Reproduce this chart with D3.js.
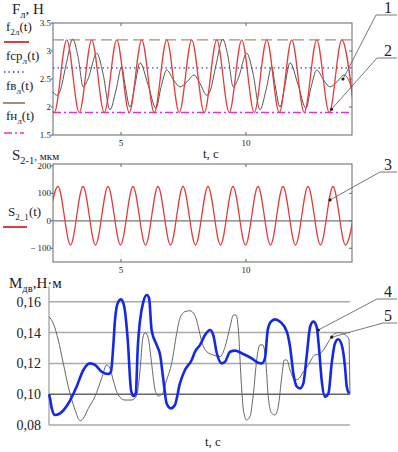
<!DOCTYPE html>
<html>
<head>
<meta charset="utf-8">
<script src="https://cdn.jsdelivr.net/npm/d3@7"></script>
<style>
  body { margin: 0; background: #fff; }
  svg text { fill: #222; }
</style>
</head>
<body>
<script>
// ---- data ----
// panel 1: force, H
var f2T = [1.83, 2.33, 2.83, 3.33, 3.83, 4.33, 4.83, 5.33, 5.83, 6.33, 6.83, 7.33, 7.83, 8.33, 8.83, 9.33, 9.83, 10.33, 10.83, 11.33, 11.83, 12.33, 12.83, 13.33, 13.83, 14.33];
var f2V = [3.2, 1.9, 3.2, 1.9, 3.2, 1.9, 3.2, 1.9, 3.2, 1.9, 3.2, 1.9, 3.2, 1.9, 3.2, 1.9, 3.2, 1.9, 3.2, 1.9, 3.2, 1.9, 3.2, 1.9, 3.2, 1.9];
var fGrayT = [2.28, 2.43, 2.56, 2.8, 3.07, 3.28, 3.49, 3.68, 4.03, 4.28, 4.56, 4.8, 5.03, 5.16, 5.36, 5.56, 5.76, 6.08, 6.4, 6.6, 6.83, 7.08, 7.36, 7.64, 7.92, 8.16,
              8.43, 8.56, 8.8, 9.07, 9.28, 9.49, 9.68, 10.03, 10.28, 10.56, 10.8, 11.03, 11.16, 11.36, 11.56, 11.76, 12.08, 12.4, 12.6, 12.83, 13.08, 13.36, 13.64, 13.92, 14.16, 14.24];
var fGrayV = [2.27, 2.21, 2.28, 2.75, 3.21, 2.9, 2.36, 2.5, 2.96, 2.6, 1.95, 2.3, 2.72, 2.4, 2.0, 2.4, 2.79, 2.4, 1.98, 2.35, 2.66, 2.5, 2.36, 2.45, 2.57, 2.42,
              2.21, 2.28, 2.75, 3.21, 2.9, 2.36, 2.5, 2.96, 2.6, 1.95, 2.3, 2.72, 2.4, 2.0, 2.4, 2.79, 2.4, 1.98, 2.35, 2.66, 2.5, 2.36, 2.45, 2.57, 2.42, 2.3];
var fUpper = 3.2, fMean = 2.7, fLower = 1.9;
var fTicks = [1.5, 2, 2.5, 3, 3.5];
var fTickLabels = ["1.5", "2", "2.5", "3", "3.5"];
var tTicks = [5, 10];

// panel 2: displacement, mkm
var sT = [1.98, 2.48, 2.98, 3.48, 3.98, 4.48, 4.98, 5.48, 5.98, 6.48, 6.98, 7.48, 7.98, 8.48, 8.98, 9.48, 9.98, 10.48, 10.98, 11.48, 11.98, 12.48, 12.98, 13.48, 13.98, 14.48];
var sV = [-88, 125, -88, 125, -88, 125, -88, 125, -88, 125, -88, 125, -88, 125, -88, 125, -88, 125, -88, 125, -88, 125, -88, 125, -88, 125];
var sTicks = [-100, 0, 100, 200];
var sTickLabels = ["\u2212 100", "0", "100", "200"];

// panel 3: motor torque, N*m
var mBlueT = [0, 0.04, 0.11, 0.24, 0.44, 0.77, 1.10, 1.37, 1.63, 1.83, 2.10, 2.36, 2.47, 2.56, 2.63, 2.76, 2.87, 3.00, 3.14, 3.27, 3.36, 3.46, 3.54, 3.63, 3.76, 3.90, 3.99, 4.09, 4.29, 4.43, 4.56, 4.69, 4.86, 5.02, 5.22, 5.42, 5.69, 5.82, 6.02, 6.22, 6.42, 6.55, 6.69, 6.89, 7.02, 7.22, 7.42, 7.68, 8.08, 8.34, 8.48, 8.61, 8.72, 8.85, 9.01, 9.21, 9.48, 9.61, 9.74, 9.88, 10.01, 10.14, 10.27, 10.41, 10.54, 10.67, 10.76, 10.87, 11.00, 11.14, 11.27, 11.40, 11.53, 11.67, 11.80, 11.87, 11.96];
var mBlueV = [0.100, 0.0973, 0.0908, 0.0865, 0.0876, 0.094, 0.1049, 0.1157, 0.120, 0.119, 0.1146, 0.1131, 0.1146, 0.1308, 0.148, 0.160, 0.1616, 0.1568, 0.1352, 0.1027, 0.0988, 0.1005, 0.1308, 0.148, 0.160, 0.1644, 0.1623, 0.1417, 0.132, 0.1255, 0.1092, 0.094, 0.0908, 0.093, 0.107, 0.1157, 0.1222, 0.1276, 0.132, 0.1384, 0.1417, 0.1384, 0.1266, 0.120, 0.1211, 0.1276, 0.1283, 0.1266, 0.1233, 0.1204, 0.120, 0.1233, 0.1417, 0.1471, 0.1486, 0.1471, 0.1406, 0.1308, 0.1136, 0.1049, 0.1038, 0.107, 0.1244, 0.1438, 0.1471, 0.1438, 0.1308, 0.1092, 0.0984, 0.1005, 0.120, 0.133, 0.1357, 0.132, 0.1179, 0.1049, 0.1005];
var mGrayT = [0, 0.17, 0.37, 0.57, 0.77, 1.04, 1.24, 1.37, 1.57, 1.83, 2.10, 2.30, 2.43, 2.56, 2.76, 3.03, 3.30, 3.50, 3.63, 3.74, 3.83, 3.96, 4.09, 4.23, 4.36, 4.52, 4.69, 4.89, 5.09, 5.22, 5.42, 5.62, 5.82, 5.95, 6.09, 6.29, 6.55, 6.82, 7.02, 7.22, 7.35, 7.46, 7.55, 7.66, 7.75, 7.88, 8.01, 8.15, 8.28, 8.41, 8.52, 8.64, 8.74, 8.88, 9.01, 9.14, 9.28, 9.38, 9.48, 9.61, 9.81, 9.97, 10.14, 10.34, 10.60, 10.80, 10.94, 11.07, 11.27, 11.40, 11.60, 11.77, 11.96, 11.98, 12.0];
var mGrayV = [0.1503, 0.146, 0.1352, 0.120, 0.1049, 0.0897, 0.0828, 0.0843, 0.0908, 0.0984, 0.1103, 0.119, 0.1168, 0.1092, 0.0995, 0.0962, 0.0962, 0.0995, 0.1157, 0.1363, 0.140, 0.1363, 0.120, 0.1027, 0.0988, 0.1005, 0.1092, 0.120, 0.1395, 0.1493, 0.1536, 0.1542, 0.151, 0.1438, 0.1341, 0.1276, 0.1255, 0.1244, 0.1308, 0.1438, 0.1514, 0.1514, 0.1417, 0.1092, 0.0897, 0.0832, 0.0854, 0.1005, 0.1222, 0.132, 0.132, 0.1222, 0.0984, 0.0876, 0.0865, 0.0919, 0.1114, 0.1222, 0.1222, 0.1157, 0.1092, 0.1103, 0.1146, 0.119, 0.1255, 0.1261, 0.1287, 0.132, 0.1373, 0.1395, 0.140, 0.1389, 0.1357, 0.120, 0.100];
var mTicks = [0.08, 0.10, 0.12, 0.14, 0.16];
var mTickLabels = ["0,08", "0,10", "0,12", "0,14", "0,16"];

// callouts: [number, panel, t, value]
var calloutNames = ["1", "2", "3", "4", "5"];
var calloutPanel = [1, 1, 2, 3, 3];
var calloutT = [13.88, 13.42, 13.36, 10.74, 11.27];
var calloutV = [2.5, 1.96, 76, 0.1417, 0.137];

function zip(a, b) { return a.map(function(d, i){ return [d, b[i]]; }); }

var width = 398, height = 452;
var serif = "'Liberation Serif', 'DejaVu Serif', 'Times New Roman', serif";
var svg = d3.select("body").append("svg")
    .attr("width", width)
    .attr("height", height)
    .attr("font-family", serif)
    .style("font-family", serif)
    .style("background-color", "white");

var defs = svg.append("defs");

// ---- scales ----
var x1 = d3.scaleLinear().domain([2.28, 14.24]).range([53, 352]);
var y1 = d3.scaleLinear().domain([1.5, 3.5]).range([135, 23]);
var y2 = d3.scaleLinear().domain([-150, 207]).range([262, 164]);
var x3 = d3.scaleLinear().domain([0, 12]).range([49, 350]);
var y3 = d3.scaleLinear().domain([0.08, 0.17]).range([425, 286.4]);

defs.append("clipPath").attr("id", "clip1").append("rect")
    .attr("x", x1(2.28)).attr("y", y1(3.5)).attr("width", x1(14.24) - x1(2.28)).attr("height", y1(1.5) - y1(3.5));
defs.append("clipPath").attr("id", "clip2").append("rect")
    .attr("x", x1(2.28)).attr("y", y2(207)).attr("width", x1(14.24) - x1(2.28)).attr("height", y2(-150) - y2(207));

function lineFor(xs, ys, curve) {
    return d3.line().x(function(d){ return xs(d[0]); }).y(function(d){ return ys(d[1]); }).curve(curve || d3.curveMonotoneX);
}

// small helper for text with subscript
function subText(g, x, y, parts, size) {
    var t = g.append("text").attr("x", x).attr("y", y).attr("font-family", serif).style("font-size", size + "px");
    parts.forEach(function(p) {
        var s = t.append("tspan").text(p[0]);
        if (p[1] === "sub") s.style("font-size", (size * 0.7) + "px").attr("dy", size * 0.28);
        else if (p[1] === "up") s.attr("dy", -size * 0.28).style("font-size", (p[2] || size) + "px");
        else if (p[2]) s.style("font-size", p[2] + "px");
    });
    return t;
}

// frame with inner ticks (Mathcad style)
function frame(ys, yTicks, yLabels, innerY) {
    var g = svg.append("g");
    var top = ys.range()[1], bot = ys.range()[0];
    g.append("rect").attr("x", x1.range()[0]).attr("y", top)
        .attr("width", x1.range()[1] - x1.range()[0]).attr("height", bot - top)
        .attr("fill", "none").attr("stroke", "#666").attr("stroke-width", 1);
    tTicks.forEach(function(t) {
        g.append("line").attr("x1", x1(t)).attr("x2", x1(t)).attr("y1", top).attr("y2", top + 3).attr("stroke", "#666");
        g.append("line").attr("x1", x1(t)).attr("x2", x1(t)).attr("y1", bot).attr("y2", bot - 3).attr("stroke", "#666");
        g.append("text").attr("x", x1(t)).attr("y", bot + 11).attr("text-anchor", "middle")
            .style("font-size", "9px").text(t);
    });
    yTicks.forEach(function(v, i) {
        g.append("line").attr("x1", x1.range()[0] - 2).attr("x2", x1.range()[0]).attr("y1", ys(v)).attr("y2", ys(v)).attr("stroke", "#666");
        g.append("text").attr("x", x1.range()[0] - 2).attr("y", ys(v) + 3).attr("text-anchor", "end")
            .style("font-size", "9px").text(yLabels[i]);
    });
    innerY.forEach(function(v) {
        g.append("line").attr("x1", x1.range()[1] - 3).attr("x2", x1.range()[1]).attr("y1", ys(v)).attr("y2", ys(v)).attr("stroke", "#666");
    });
    return g;
}

// ---- panel 1 ----
frame(y1, fTicks, fTickLabels, [2, 2.5, 3]);
var p1 = svg.append("g").attr("clip-path", "url(#clip1)");
p1.append("line").attr("x1", x1(2.28)).attr("x2", x1(14.24)).attr("y1", y1(fUpper)).attr("y2", y1(fUpper))
    .attr("stroke", "#a48f7c").attr("stroke-width", 1.3).attr("stroke-dasharray", "11,5");
p1.append("line").attr("x1", x1(2.28)).attr("x2", x1(14.24)).attr("y1", y1(fMean)).attr("y2", y1(fMean))
    .attr("stroke", "#3a3ad8").attr("stroke-width", 1.2).attr("stroke-dasharray", "1.5,3");
p1.append("line").attr("x1", x1(2.28)).attr("x2", x1(14.24)).attr("y1", y1(fLower)).attr("y2", y1(fLower))
    .attr("stroke", "#e030e0").attr("stroke-width", 1.5).attr("stroke-dasharray", "8,3,2,3");
p1.append("path").datum(zip(fGrayT, fGrayV)).attr("d", lineFor(x1, y1))
    .attr("fill", "none").attr("stroke", "#555").attr("stroke-width", 1);
p1.append("path").datum(zip(f2T, f2V)).attr("d", lineFor(x1, y1))
    .attr("fill", "none").attr("stroke", "#e23c3c").attr("stroke-width", 1.3);

// legend panel 1
subText(svg, 12, 14, [["F"], ["л", "sub"], [", Н", "up"]], 15);
subText(svg, 6, 31, [["f"], ["2л", "sub"], ["(t)", "up"]], 13);
svg.append("line").attr("x1", 4).attr("x2", 29).attr("y1", 42).attr("y2", 42).attr("stroke", "#e23c3c").attr("stroke-width", 2);
subText(svg, 6, 60, [["fср"], ["л", "sub"], ["(t)", "up"]], 13);
svg.append("line").attr("x1", 4).attr("x2", 25).attr("y1", 72).attr("y2", 72).attr("stroke", "#3a3ad8").attr("stroke-width", 1.3).attr("stroke-dasharray", "1.5,3");
subText(svg, 6, 90, [["fв"], ["л", "sub"], ["(t)", "up"]], 13);
svg.append("line").attr("x1", 3).attr("x2", 25).attr("y1", 103).attr("y2", 103).attr("stroke", "#a48f7c").attr("stroke-width", 2);
subText(svg, 6, 120, [["fн"], ["л", "sub"], ["(t)", "up"]], 13);
svg.append("line").attr("x1", 4).attr("x2", 24).attr("y1", 133).attr("y2", 133).attr("stroke", "#e030e0").attr("stroke-width", 1.5).attr("stroke-dasharray", "8,3,2,3");

svg.append("text").attr("x", 203).attr("y", 158).style("font-size", "13px").text("t, c");

// ---- panel 2 ----
frame(y2, sTicks, sTickLabels, [-100, 0, 100]);
var p2 = svg.append("g").attr("clip-path", "url(#clip2)");
p2.append("line").attr("x1", x1(2.28)).attr("x2", x1(14.24)).attr("y1", y2(0)).attr("y2", y2(0))
    .attr("stroke", "#777").attr("stroke-width", 1.2);
p2.append("path").datum(zip(sT, sV)).attr("d", lineFor(x1, y2))
    .attr("fill", "none").attr("stroke", "#e23c3c").attr("stroke-width", 1.3);

subText(svg, 12, 160, [["S"], ["2-1", "sub"], [", мкм", "up", 11]], 15);
subText(svg, 8, 216, [["S"], ["2_1", "sub"], ["(t)", "up"]], 13);
svg.append("line").attr("x1", 3).attr("x2", 27).attr("y1", 227).attr("y2", 227).attr("stroke", "#e23c3c").attr("stroke-width", 2);

// ---- panel 3 ----
var p3 = svg.append("g");
mTicks.forEach(function(v, i) {
    p3.append("line").attr("x1", x3(0)).attr("x2", x3(12)).attr("y1", y3(v)).attr("y2", y3(v))
        .attr("stroke", v === 0.10 ? "#666" : "#aaa").attr("stroke-width", 1.5);
    p3.append("text").attr("x", 41).attr("y", y3(v) + 5).attr("text-anchor", "end")
        .style("font-size", "14px").text(mTickLabels[i]);
});
p3.append("line").attr("x1", x3(0)).attr("x2", x3(0)).attr("y1", y3(0.17)).attr("y2", y3(0.08))
    .attr("stroke", "#999").attr("stroke-width", 1.2);
p3.append("path").datum(zip(mGrayT, mGrayV)).attr("d", lineFor(x3, y3))
    .attr("fill", "none").attr("stroke", "#666").attr("stroke-width", 1);
p3.append("path").datum(zip(mBlueT, mBlueV)).attr("d", lineFor(x3, y3))
    .attr("fill", "none").attr("stroke", "#1428e6").attr("stroke-width", 2.6);

subText(svg, 9, 288, [["M"], ["дв", "sub"], [",Н·м", "up"]], 15);
svg.append("text").attr("x", 205).attr("y", 446).style("font-size", "13px").text("t, c");

// ---- callouts ----
var labelY = [15, 58, 172, 299, 323];
var labelX0 = [376, 377, 380, 377, 383];
calloutNames.forEach(function(n, i) {
    var px, py;
    if (calloutPanel[i] === 1) { px = x1(calloutT[i]); py = y1(calloutV[i]); }
    else if (calloutPanel[i] === 2) { px = x1(calloutT[i]); py = y2(calloutV[i]); }
    else { px = x3(calloutT[i]); py = y3(calloutV[i]); }
    svg.append("line").attr("x1", labelX0[i]).attr("x2", 397).attr("y1", labelY[i]).attr("y2", labelY[i])
        .attr("stroke", "#555").attr("stroke-width", 0.8);
    svg.append("line").attr("x1", labelX0[i]).attr("x2", px).attr("y1", labelY[i]).attr("y2", py)
        .attr("stroke", "#555").attr("stroke-width", 0.8);
    svg.append("circle").attr("cx", px).attr("cy", py).attr("r", 1.6).attr("fill", "#222");
    svg.append("text").attr("x", 388).attr("y", labelY[i] - 2).attr("text-anchor", "middle")
        .style("font-size", "16px").text(n);
});
</script>
</body>
</html>
